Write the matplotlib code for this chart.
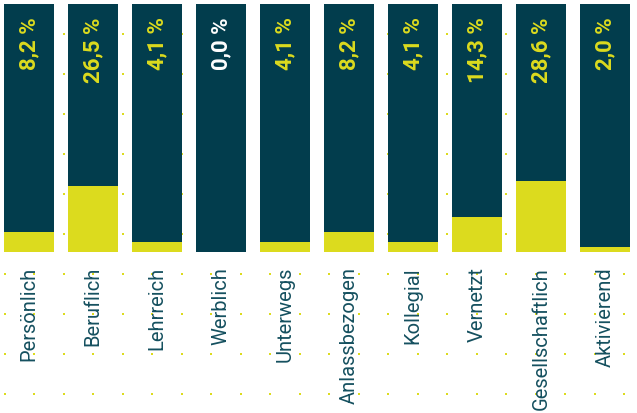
import numpy as np
import matplotlib.pyplot as plt

# data
categories = ['Persönlich', 'Beruflich', 'Lehrreich', 'Werblich', 'Unterwegs',
              'Anlassbezogen', 'Kollegial', 'Vernetzt', 'Gesellschaftlich', 'Aktivierend']
values = [8.2, 26.5, 4.1, 0.0, 4.1, 8.2, 4.1, 14.3, 28.6, 2.0]

dark = '#023d4d'
yellow = '#dcdb1e'
label_col = '#15505f'

W, H = 637, 414
fig = plt.figure(figsize=(W / 100, H / 100), dpi=100)

# dotted background grid (pixel coords)
bg = fig.add_axes([0, 0, 1, 1])
bg.set_xlim(0, W)
bg.set_ylim(H, 0)
bg.axis('off')
gx, gy = np.meshgrid(np.linspace(5, 624, 22), np.linspace(35, 395, 10))
bg.scatter(gx.ravel(), gy.ravel(), s=3.5, marker='s', color=yellow, linewidths=0)

# bars
top_px, bot_px = 5, 253
ax = fig.add_axes([0, (H - bot_px) / H, 1, (bot_px - top_px) / H])
ax.patch.set_alpha(0)
x = np.arange(len(categories))
ax.bar(x, [100] * len(x), width=50 / 64, color=dark, zorder=1)
ax.bar(x, values, width=50 / 64, color=yellow, zorder=2)
ax.set_xlim(-29 / 64, (W - 29) / 64)
ax.set_ylim(0, 100)
ax.axis('off')

for i, v in enumerate(values):
    txt = f'{v:.1f}'.replace('.', ',') + ' %'
    ax.annotate(txt, (i, 100), xytext=(0, -9), textcoords='offset points',
                rotation=90, ha='center', va='top', fontsize=16,
                fontweight='bold', family='Roboto',
                color='white' if v == 0 else yellow)
    ax.annotate(categories[i], (i, 0), xytext=(0, -10), textcoords='offset points',
                rotation=90, ha='center', va='top', fontsize=14.5,
                family='Roboto', color=label_col, annotation_clip=False)

fig.savefig('out.png', dpi=100)
